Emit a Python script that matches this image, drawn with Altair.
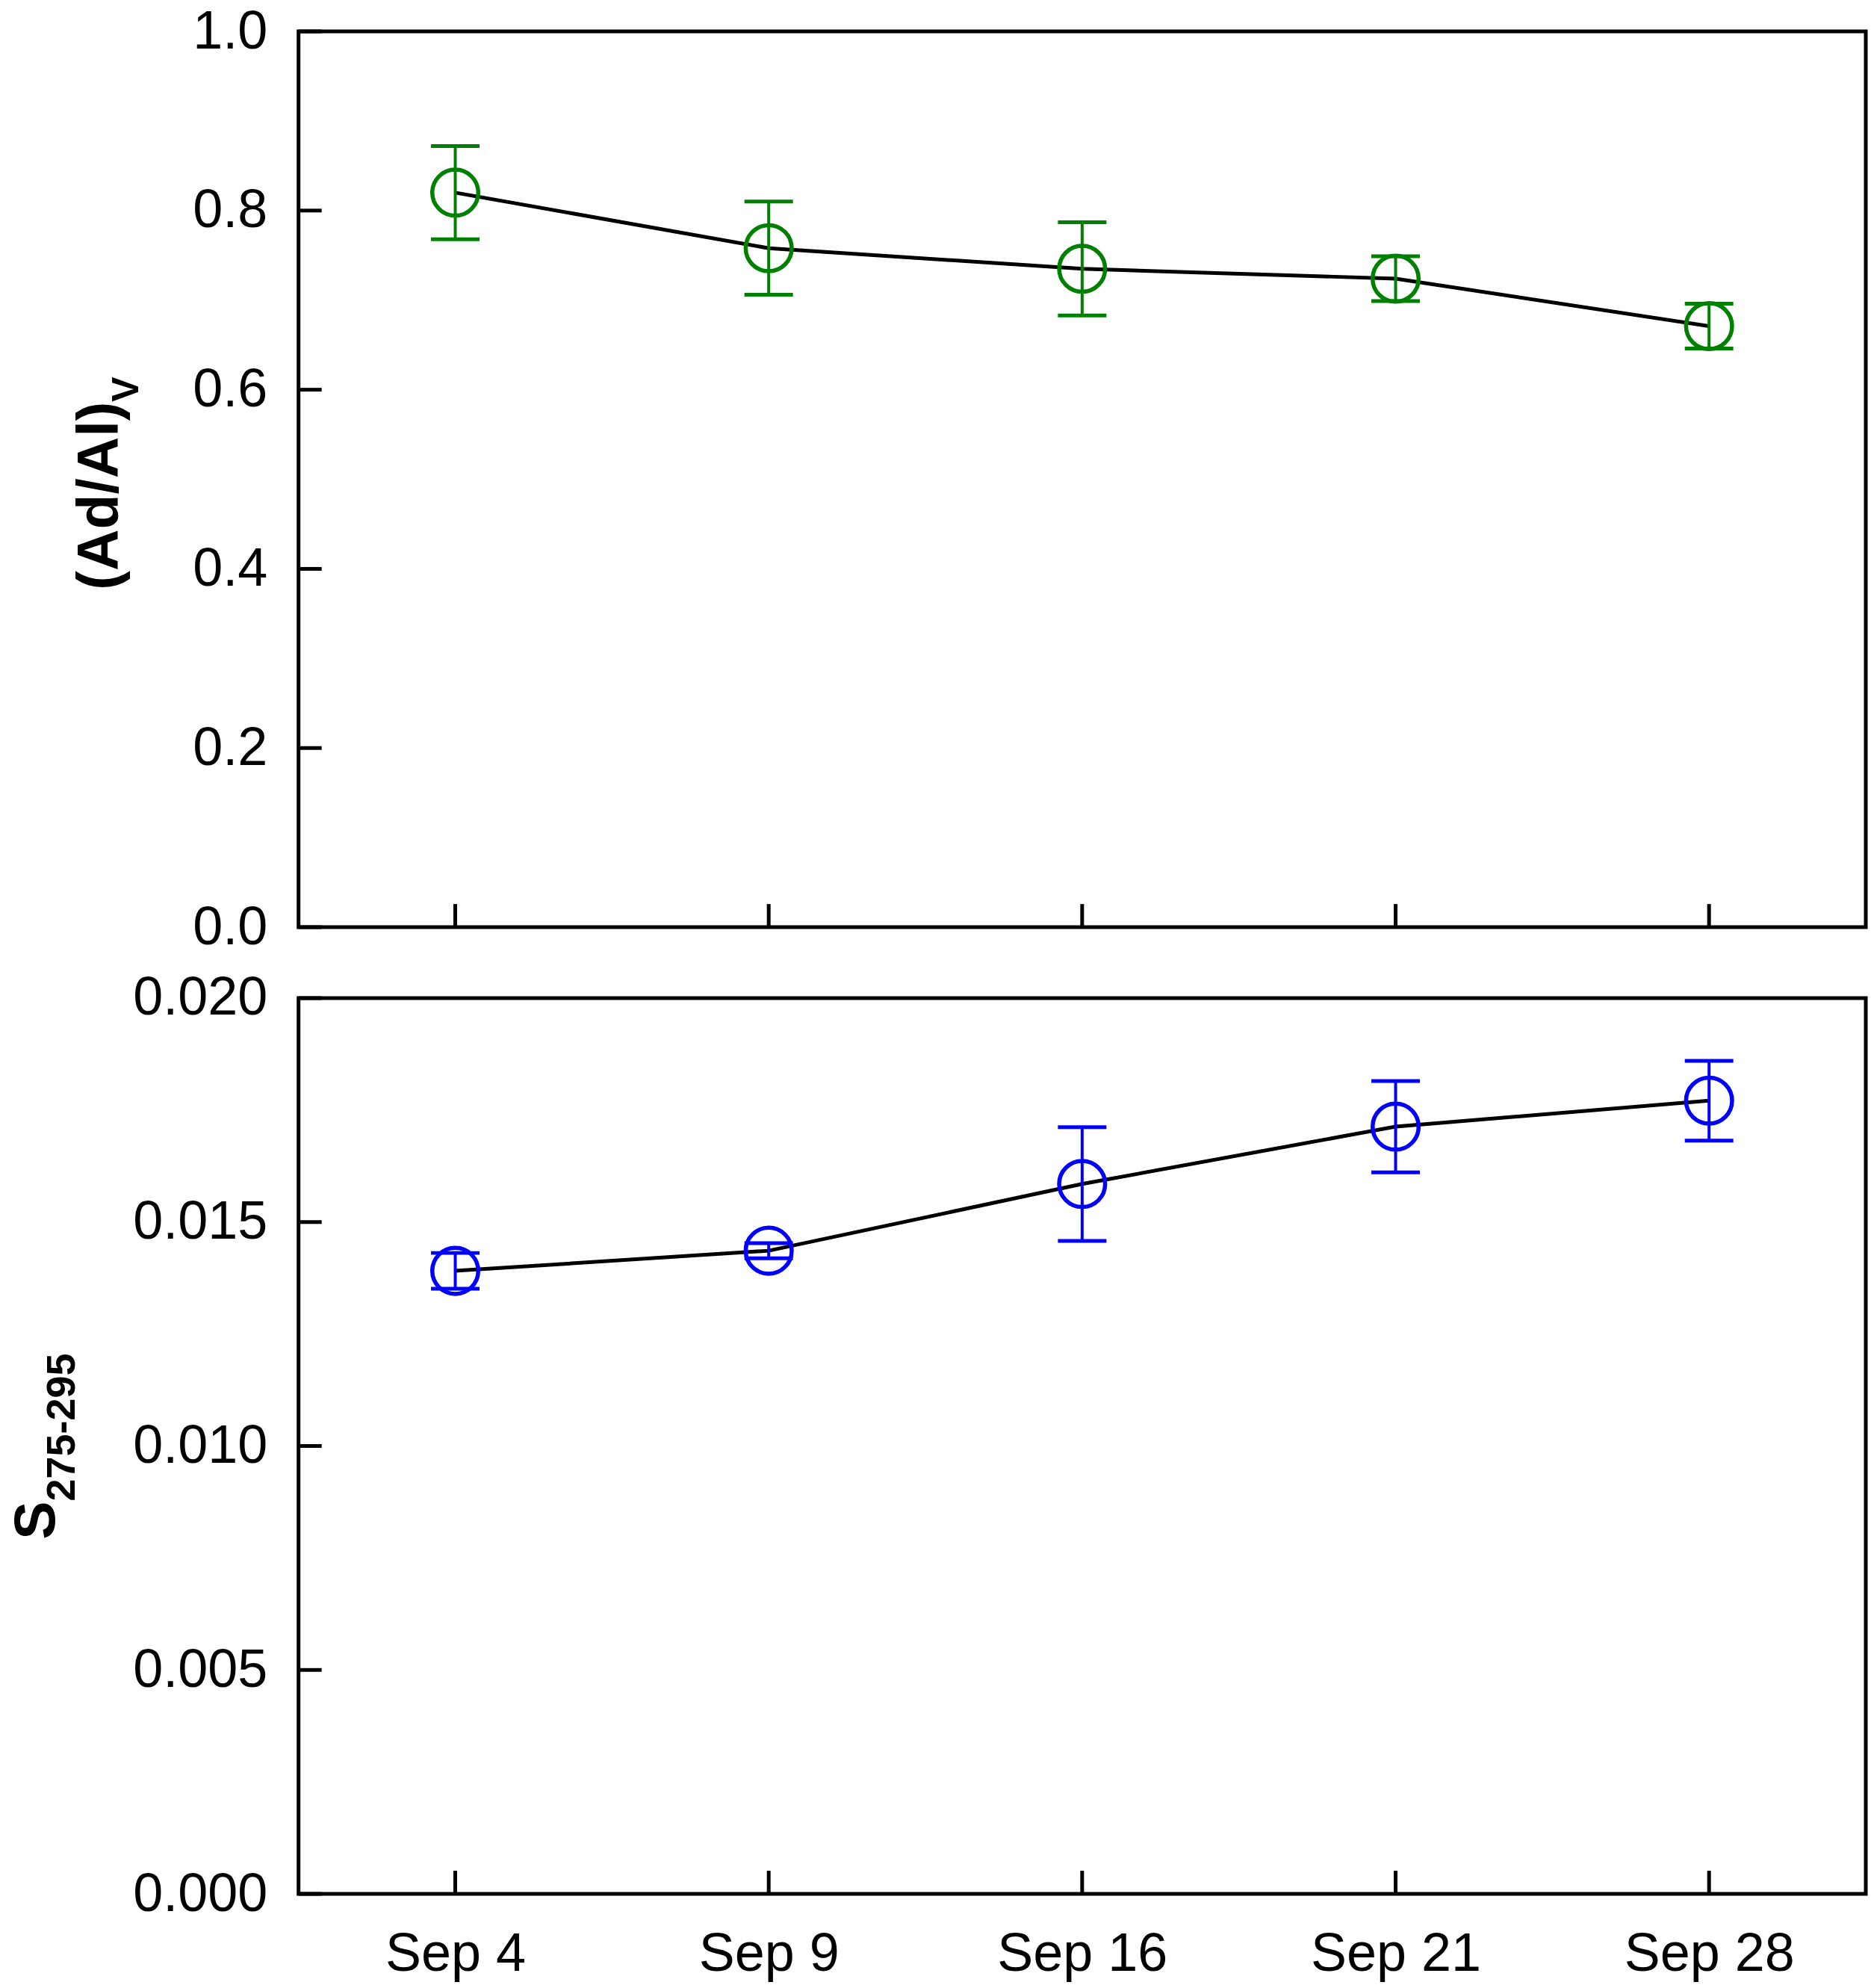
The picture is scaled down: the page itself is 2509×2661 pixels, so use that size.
import altair as alt
import pandas as pd

dates = ["Sep 4", "Sep 9", "Sep 16", "Sep 21", "Sep 28"]
adal_mean = [0.820, 0.758, 0.735, 0.724, 0.671]
adal_err = [0.052, 0.052, 0.052, 0.025, 0.025]
s_mean = [0.01391, 0.01436, 0.01585, 0.01713, 0.01771]
s_err = [0.00040, 0.00017, 0.00127, 0.00102, 0.00089]
adal_ticks = [0.0, 0.2, 0.4, 0.6, 0.8, 1.0]
s_ticks = [0.0, 0.005, 0.010, 0.015, 0.020]

W, H = 2100, 1200
FONT = "Liberation Sans"
TICK = 31


def panel(mean, err, color, ticks, fmt, show_x, t_main, t_sub, main_x, sub_x, junc_y, sub_size):
    df = pd.DataFrame({
        "date": dates,
        "v": mean,
        "lo": [m - e for m, e in zip(mean, err)],
        "hi": [m + e for m, e in zip(mean, err)],
    })
    tdf = pd.DataFrame({"t": ticks})
    one = pd.DataFrame({"a": [1]})

    if show_x:
        xaxis = alt.Axis(title=None, domain=False, ticks=False, tickSize=0, grid=False,
                         labelAngle=0, labelFontSize=72, labelFont=FONT, labelColor="black",
                         labelPadding=46, labelLimit=0)
    else:
        xaxis = None
    xscale = alt.Scale(type="point", padding=0.5)
    yscale = alt.Scale(domain=[ticks[0], ticks[-1]], nice=False, zero=True)
    yaxis = alt.Axis(values=ticks, format=fmt, title=None, domain=False, ticks=False,
                     tickSize=0, grid=False, labelFontSize=72, labelPadding=42,
                     labelFont=FONT, labelColor="black", labelLimit=0)

    def X():
        return alt.X("date:N", sort=dates, scale=xscale, axis=xaxis)

    def Y(f):
        return alt.Y(f, scale=yscale, axis=yaxis)

    base = alt.Chart(df)
    yticks = alt.Chart(tdf).mark_rule(color="black", strokeWidth=5).encode(
        y=Y("t:Q"), x=alt.value(0), x2=alt.value(TICK))
    xticks = base.mark_rule(color="black", strokeWidth=5).encode(
        x=X(), y=alt.value(H), y2=alt.value(H - TICK))
    line = base.mark_line(color="black", strokeWidth=5).encode(x=X(), y=Y("v:Q"))
    bars = base.mark_rule(color=color, strokeWidth=4).encode(x=X(), y=Y("lo:Q"), y2="hi:Q")
    cap_lo = base.mark_tick(color=color, size=65, thickness=5, opacity=1).encode(x=X(), y=Y("lo:Q"))
    cap_hi = base.mark_tick(color=color, size=65, thickness=5, opacity=1).encode(x=X(), y=Y("hi:Q"))
    pts = base.mark_point(shape="circle", filled=False, size=3800, strokeWidth=5.5,
                          color=color, opacity=1).encode(x=X(), y=Y("v:Q"))
    title_main = alt.Chart(one).mark_text(
        text=t_main, angle=270, align="right", baseline="alphabetic", fontSize=77,
        fontWeight="bold", font=FONT, color="black").encode(
        x=alt.value(main_x), y=alt.value(junc_y))
    title_sub = alt.Chart(one).mark_text(
        text=t_sub, angle=270, align="left", baseline="alphabetic", fontSize=sub_size,
        fontWeight="bold", font=FONT, color="black").encode(
        x=alt.value(sub_x), y=alt.value(junc_y))

    return alt.layer(yticks, xticks, line, bars, cap_lo, cap_hi, pts, title_main, title_sub).properties(
        width=W, height=H)


top = panel(adal_mean, adal_err, "#008000", adal_ticks, ".1f", False,
            "(Ad/Al)", "V", -242, -215, 496, 50)
bottom = panel(s_mean, s_err, "#0000FF", s_ticks, ".3f", True,
               "S", "275-295", -327, -300, 674, 54)

chart = alt.vconcat(top, bottom, spacing=95, bounds="flush").properties(
    padding={"top": -6, "left": 0, "right": 0, "bottom": 0}).configure_view(
    stroke="black", strokeWidth=5)

chart.save("out.html", embed_options={"renderer": "svg", "actions": False})
